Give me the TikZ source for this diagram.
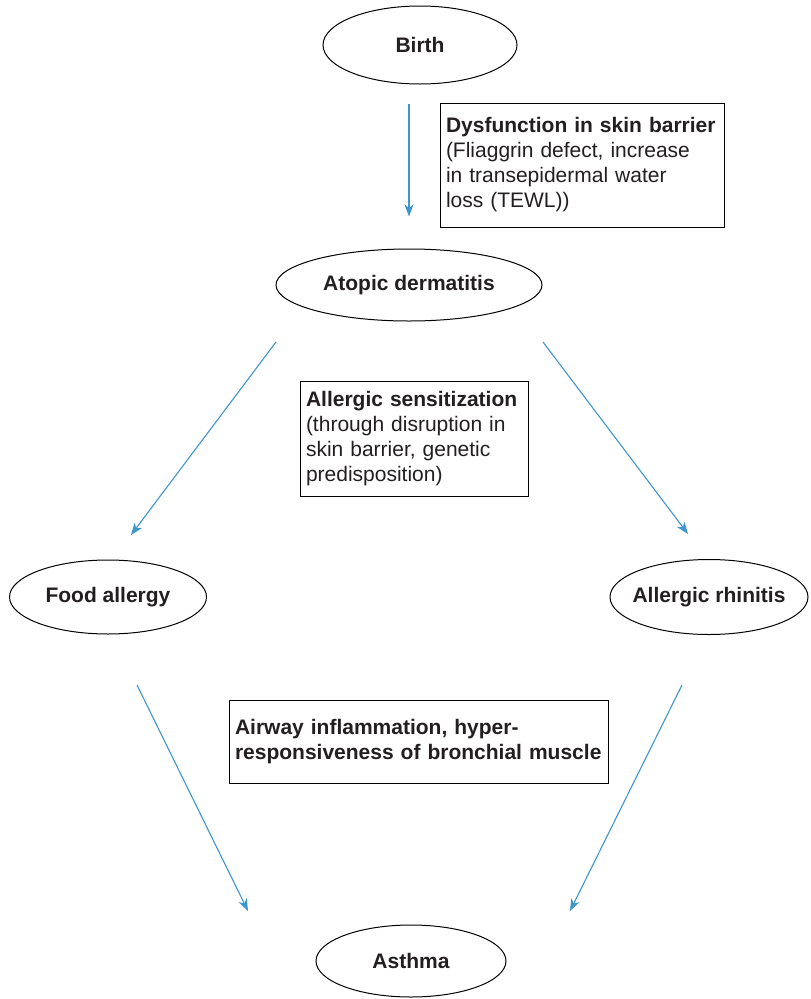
\documentclass[tikz,border=0pt]{standalone}
\usepackage{fontspec}
\setmainfont{Liberation Sans}
\usetikzlibrary{shapes.geometric,arrows.meta,calc}
\definecolor{arrblue}{RGB}{62,150,204}
\definecolor{txt}{RGB}{35,31,32}
\begin{document}
\begin{tikzpicture}[x=1pt,y=-1pt,
 ell/.style={draw, ellipse, line width=1pt, inner sep=0pt, text=txt, font=\fontsize{21}{25}\selectfont\bfseries},
 box/.style={draw, rectangle, line width=1pt, inner xsep=6pt, inner ysep=0pt, align=left, text=txt, font=\fontsize{21}{25}\selectfont},
 arr/.style={draw=arrblue, line width=1.1pt, -{Stealth[length=12pt,width=9pt,inset=3.5pt]}}]
\useasboundingbox (0,0) rectangle (811,999);

\node[ell, minimum width=194pt, minimum height=78pt] (birth) at (420,45) {Birth};
\node[ell, minimum width=266pt, minimum height=72pt] (atopic) at (409,285) {Atopic dermatitis};
\node[ell, minimum width=197pt, minimum height=74pt] (food) at (108,597) {\makebox[0pt]{Food allergy}};
\node[ell, minimum width=198pt, minimum height=75pt] (rhin) at (709,597) {\makebox[0pt]{Allergic rhinitis}};
\node[ell, minimum width=190pt, minimum height=72pt] (asthma) at (411,961) {Asthma};

\node[box, text width=272pt, minimum height=124pt] (b1) at (582,165)
 {\textbf{Dysfunction in skin barrier}\\(Fliaggrin defect, increase\\in transepidermal water\\loss (TEWL))};
\node[box, text width=216pt, minimum height=115pt] (b2) at (414,438.5)
 {\textbf{Allergic sensitization}\\(through disruption in\\skin barrier, genetic\\predisposition)};
\node[box, text width=367pt, minimum height=83pt] (b3) at (418.5,741.5)
 {\textbf{Airway inflammation, hyper-}\\\textbf{responsiveness of bronchial muscle}};

\draw[arr, shorten <=19pt, shorten >=32pt] (atopic.north |- birth.south) -- (atopic.north);
\draw[arr] ([xshift=-133pt,yshift=-57pt]atopic.center) -- ([xshift=23pt,yshift=62pt]food.center);
\draw[arr] ([xshift=134pt,yshift=-57pt]atopic.center) -- ([xshift=-21pt,yshift=63pt]rhin.center);
\draw[arr] ([xshift=29pt,yshift=-88pt]food.center) -- ([xshift=-163pt,yshift=50pt]asthma.center);
\draw[arr] ([xshift=-27pt,yshift=-88pt]rhin.center) -- ([xshift=159pt,yshift=50pt]asthma.center);
\end{tikzpicture}
\end{document}
